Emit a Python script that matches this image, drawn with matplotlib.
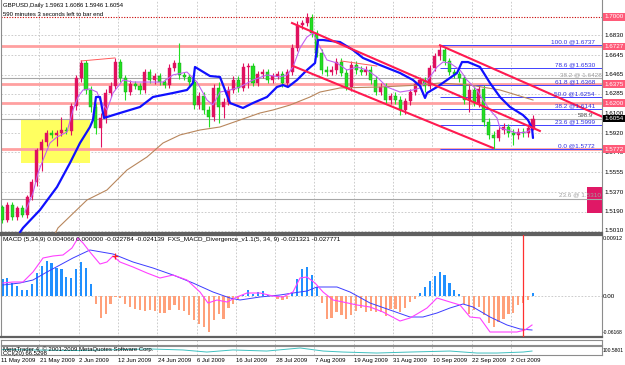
import numpy as np
import pandas as pd
import matplotlib
matplotlib.use("Agg")
import matplotlib.pyplot as plt
import matplotlib.transforms as mtrans
from matplotlib.patches import Rectangle

plt.rcParams['font.family'] = ['Liberation Sans', 'DejaVu Sans']

#------ DONNEES -------------------------------------#
symbol = "GBPUSD,Daily"
first_date = "2009-05-11"
open0 = 1.5233
closes = [1.5112, 1.5252, 1.5140, 1.5224, 1.5158, 1.5326, 1.5465, 1.5763, 1.5837, 1.5921,
          1.5903, 1.5921, 1.5949, 1.5940, 1.6172, 1.6433, 1.6572, 1.6321, 1.6163, 1.5968,
          1.6061, 1.6293, 1.6358, 1.6581, 1.6433, 1.6302, 1.6377, 1.6358, 1.6321, 1.6488,
          1.6414, 1.6451, 1.6395, 1.6367, 1.6526, 1.6572, 1.6461, 1.6442, 1.6395, 1.6182,
          1.6265, 1.6135, 1.6070, 1.6340, 1.6163, 1.6209, 1.6321, 1.6414, 1.6340, 1.6535,
          1.6544, 1.6386, 1.6470, 1.6488, 1.6414, 1.6451, 1.6470, 1.6386, 1.6488, 1.6712,
          1.6926, 1.6944, 1.6991, 1.6851, 1.6665, 1.6507, 1.6488, 1.6507, 1.6581, 1.6479,
          1.6349, 1.6553, 1.6507, 1.6488, 1.6507, 1.6414, 1.6302, 1.6349, 1.6228, 1.6265,
          1.6228, 1.6135, 1.6219, 1.6302, 1.6377, 1.6414, 1.6358, 1.6526, 1.6637, 1.6693,
          1.6591, 1.6488, 1.6470, 1.6433, 1.6228, 1.6321, 1.6200, 1.6331, 1.6023, 1.5903,
          1.5875, 1.5949, 1.5977, 1.5921, 1.5903, 1.5930, 1.5921, 1.5963, 1.6054]
# meches haute / basse en pips
wick_hi = [20, 25, 30, 20, 25, 20, 25, 20, 30, 30, 30, 25, 120, 30, 30, 30, 30, 30, 40, 40,
           50, 40, 40, 40, 30, 30, 40, 30, 30, 30, 30, 30, 30, 30, 40, 30, 190, 30, 30, 40,
           40, 40, 40, 40, 60, 40, 40, 40, 40, 40, 30, 30, 30, 30, 30, 30, 30, 30, 30, 40,
           40, 30, 45, 35, 30, 40, 40, 40, 40, 40, 40, 40, 40, 40, 40, 40, 40, 40, 40, 30,
           40, 40, 30, 30, 30, 30, 30, 30, 30, 44, 30, 30, 30, 30, 30, 60, 40, 40, 40, 40,
           40, 40, 40, 30, 40, 40, 40, 40, 32]
wick_lo = [30, 20, 25, 25, 20, 30, 30, 40, 200, 40, 30, 100, 30, 30, 40, 40, 40, 40, 50, 60,
           180, 50, 40, 30, 40, 75, 30, 30, 40, 30, 30, 40, 30, 30, 30, 30, 40, 30, 40, 40,
           40, 40, 95, 40, 150, 100, 30, 30, 40, 30, 200, 30, 30, 40, 30, 30, 30, 40, 30, 30,
           30, 40, 30, 40, 40, 40, 40, 30, 40, 30, 30, 40, 40, 30, 30, 40, 30, 30, 40, 40,
           40, 50, 40, 40, 30, 30, 60, 30, 30, 40, 40, 30, 40, 40, 40, 110, 30, 40, 40, 40,
           103, 30, 40, 40, 95, 40, 40, 40, 17]

# moyennes mobiles (noeuds : barre, prix)
ma_blue_bar = [3.56, 4.17, 7.63, 11.1, 13.74, 15.78, 17.81, 18.42, 19.03, 19.85, 20.66, 23.92,
               27.99, 30.64, 34.71, 37.56, 38.78, 39.19, 40.21, 42.24, 44.28, 46.32, 48.96,
               51.0, 53.85, 55.88, 57.11, 58.13, 59.96, 62.0, 63.63, 64.24, 65.26, 68.71,
               71.36, 73.39, 76.85, 80.93, 83.57, 85.0, 86.02, 86.43, 88.46, 90.5, 92.53,
               93.55, 94.77, 97.21, 99.25, 101.28, 103.32, 105.96, 106.98, 107.8, 108.0]
ma_blue_val = [1.4998, 1.5038, 1.5205, 1.5419, 1.5642, 1.5828, 1.5977, 1.6042, 1.6256, 1.6256,
               1.6061, 1.6107, 1.6163, 1.6256, 1.6293, 1.6321, 1.6386, 1.6535, 1.6507, 1.6451,
               1.6442, 1.6200, 1.6154, 1.6200, 1.6256, 1.6349, 1.6367, 1.6349, 1.6414, 1.6507,
               1.6572, 1.6786, 1.6786, 1.6767, 1.6693, 1.6619, 1.6553, 1.6479, 1.6414, 1.6358,
               1.6247, 1.6293, 1.6349, 1.6414, 1.6479, 1.6581, 1.6581, 1.6535, 1.6386, 1.6256,
               1.6163, 1.6088, 1.6042, 1.5968, 1.5875]
ma_fast_bar = [4.58, 5.19, 6.21, 7.23, 8.25, 9.67, 11.1, 13.13, 14.35, 15.37, 16.39, 17.81,
               19.24, 19.85, 21.27, 22.5, 24.53, 26.57, 29.42, 32.68, 34.71, 37.56, 39.6,
               41.63, 42.85, 44.28, 46.32, 48.35, 51.0, 53.85, 56.49, 57.92, 59.14, 60.57,
               61.99, 63.21, 64.64, 66.06, 68.1, 70.13, 72.17, 74.21, 76.24, 78.28, 80.93,
               83.57, 85.0, 87.03, 88.46, 89.68, 91.1, 93.14, 94.56, 96.6, 97.82, 99.25,
               100.67, 101.28, 102.71, 104.74, 106.78, 108.0]
ma_fast_val = [1.5186, 1.5252, 1.5363, 1.5549, 1.5670, 1.5828, 1.5884, 1.5930, 1.6135, 1.6256,
               1.6321, 1.6331, 1.6302, 1.6228, 1.6135, 1.6293, 1.6414, 1.6395, 1.6395, 1.6395,
               1.6461, 1.6488, 1.6395, 1.6228, 1.6182, 1.6302, 1.6321, 1.6349, 1.6414, 1.6461,
               1.6442, 1.6461, 1.6535, 1.6712, 1.6814, 1.6851, 1.6721, 1.6600, 1.6572, 1.6507,
               1.6535, 1.6507, 1.6442, 1.6349, 1.6302, 1.6321, 1.6340, 1.6442, 1.6535, 1.6581,
               1.6572, 1.6507, 1.6414, 1.6321, 1.6228, 1.6135, 1.6061, 1.5968, 1.5949, 1.5921,
               1.5930, 1.5968]
ma_slow_bar = [10.69, 11.3, 17.2, 21.27, 25.35, 29.42, 32.68, 36.14, 40.21, 44.28, 48.35,
               52.42, 55.07, 58.53, 62.61, 64.64, 68.71, 76.85, 85.0, 89.07, 95.17, 101.28, 108.0]
ma_slow_val = [1.4982, 1.5038, 1.5298, 1.5391, 1.5577, 1.5698, 1.5828, 1.5903, 1.5949, 1.5977,
               1.6042, 1.6107, 1.6135, 1.6181, 1.6256, 1.6302, 1.6340, 1.6349, 1.6367, 1.6386,
               1.6367, 1.6321, 1.6228]

# objets traces
levels_red = [1.6727, 1.6375, 1.6200, 1.5772]
level_top = 1.7000
levels_gray = [1.6428, 1.5310]
gray_names = ["38.2", "23.6"]
fib_levels = [1.6737, 1.6530, 1.6368, 1.6254, 1.6141, 1.5999, 1.5772]
fib_names = ["100.0", "78.6", "61.8", "50.0", "38.2", "23.6", "0.0"]
fib_start = 89
channels = [((58.94, 1.6944), (109.4, 1.5940)),
            ((59.14, 1.6544), (99.86, 1.5782)),
            ((89.07, 1.6737), (125.7, 1.6000))]
thin_lines = [((16.0, 1.6591), (22.9, 1.6619)), ((68.9, 1.6591), (76.2, 1.6544))]
zone_yellow = (3.8, 17.8, 1.5642, 1.6042)
zone_pink = (119.0, 122.2, 1.5177, 1.5419)
bid = 1.6054
price_ticks = [1.6830, 1.6645, 1.6465, 1.6285, 1.6100, 1.5920, 1.5740, 1.5555, 1.5370, 1.5190, 1.5010]

# MACD (unites du panneau)
macd_hist = [17, 18, 13, 10, 6, 6, 12, 23, 30, 35, 33, 28, 27, 19, 18, 27, 34, 28, 12,
             -8, -22, -18, -8, -1, -2, -8, -11, -13, -14, -15, -14, -15, -17, -17, -14, -9,
             -14, -15, -19, -24, -28, -31, -36, -24, -18, -23, -12, -8, -3,
             1, 6, 2, 4, 5, 1, 0, -3, -4, -3, 4, 17, 27, 29, 21, 9,
             -7, -23, -22, -16, -19, -23, -19, -15, -12, -16, -15, -16, -16, -20, -13, -13,
             -16, -12, -6, -3, 3, 9, 15, 20, 24, 21, 13, 6, 2,
             -8, -18, -14, -11, -19, -27, -31, -26, -23, -18, -17, -9, -7, -4, 3]
macd_main_bar = [0.1, 2.14, 4.17, 6.21, 8.25, 10.28, 12.32, 14.15, 15.37, 16.39, 17.81, 19.85,
                 21.27, 22.5, 23.92, 26.57, 29.42, 32.07, 34.71, 37.56, 40.21, 41.84, 43.67,
                 45.7, 47.74, 49.78, 52.42, 55.07, 57.11, 59.14, 60.57, 61.99, 63.63, 65.26,
                 67.29, 69.32, 72.17, 74.82, 77.46, 80.93, 82.96, 84.39, 86.43, 88.46, 91.1,
                 93.14, 95.17, 97.21, 99.25, 100.67, 104.74, 106.37, 107.8]
macd_main_val = [13, 14, 14, 24, 38, 40, 41, 48, 58, 53, 44, 32, 34, 40, 34, 29, 23, 18, 21, 16,
                 4, -7, -4, -6, -1, 3, 3, 0, -1, 4, 18, 19, 13, 4, -4, -6, -9, -11, -16, -25,
                 -22, -18, -12, -2, -6, -9, -21, -22, -36, -36, -36, -34, -29]
macd_sig_bar = [0.1, 3.56, 6.21, 9.06, 11.71, 14.35, 17.81, 22.5, 26.57, 30.64, 34.71, 38.78,
                42.85, 46.32, 48.35, 52.42, 56.49, 59.14, 61.99, 64.03, 68.1, 70.75, 74.82,
                78.89, 82.96, 85.6, 88.46, 91.1, 93.75, 95.79, 99.25, 102.71, 105.36, 107.8]
macd_sig_val = [11, 13, 16, 24, 31, 38, 46, 42, 34, 28, 21, 13, 4, -2, -4, -1, 1, 3, 5, 9, 9, 4,
                -7, -14, -21, -21, -17, -12, -8, -11, -21, -29, -33, -34]
macd_cross = (23, 40)
vline_bar = 106
macd_labels = [(58, "0.00912", 4.0), (0, "0.00", 4.5), (-37, "-0.06168", 3.6)]

# petit oscillateur du bas
osc_bar = [0, 15, 30.0, 36.7, 41.6, 46.9, 53.8, 60.6, 65.3, 69.3, 76.2, 83.0, 91.1, 96.6, 100.7, 106.0, 107.8]
osc_val = [60, 50, 67, 56, 33, 56, 44, 78, 44, 33, 22, 33, 44, 22, 22, 33, 44]
#----------------------------------------------------#

W, H = 625, 365
fig = plt.figure(figsize=(W / 100, H / 100), dpi=100)
fig.patch.set_facecolor("white")

def panel(x0, y0, x1, y1):
    return fig.add_axes([x0 / W, 1 - y1 / H, (x1 - x0) / W, (y1 - y0) / H])

ax = panel(1, 0, 602, 233)
axm = panel(1, 235, 602, 337)
axt = panel(1, 340, 602, 345)
axo = panel(1, 346, 602, 355)

n = len(closes)
xb = np.arange(n)
c = np.array(closes)
o = np.r_[open0, c[:-1]]
hi = np.maximum(o, c) + np.array(wick_hi) * 1e-4
lo = np.minimum(o, c) - np.array(wick_lo) * 1e-4
dates = pd.bdate_range(first_date, periods=n)
tick_bars = np.arange(0, n, 8)
tick_labels = ["%d %s" % (d.day, d.strftime("%b %Y")) for d in dates[tick_bars]]

xlim = (-0.3, 122.05)
grid_kw = dict(color="#c4c4c4", lw=0.6, ls=(0, (2, 2)), zorder=0)
for a in (ax, axm, axt, axo):
    a.set_xlim(*xlim)
    a.set_xticks([])
    a.set_yticks([])
    for t in tick_bars:
        a.axvline(t - 0.5, **grid_kw)
    for s in ("left", "right", "top", "bottom"):
        a.spines[s].set_color("#8c8c8c")
        a.spines[s].set_linewidth(0.8)
ax.spines["top"].set_visible(False)
ax.spines["bottom"].set_color("#606060"); ax.spines["bottom"].set_linewidth(1.6)
axm.spines["top"].set_color("#606060"); axm.spines["top"].set_linewidth(1.6)
axm.spines["bottom"].set_color("#606060"); axm.spines["bottom"].set_linewidth(1.6)

# ---- graphique principal ----
ax.set_ylim(1.4991, 1.7158)
for p in price_ticks:
    ax.axhline(p, **grid_kw)

y0z, y1z = zone_yellow[2], zone_yellow[3]
ax.add_patch(Rectangle((zone_yellow[0], y0z), zone_yellow[1] - zone_yellow[0], y1z - y0z,
                       fc="#ffff60", ec="none", zorder=1))
ax.add_patch(Rectangle((zone_pink[0], zone_pink[2]), zone_pink[1] - zone_pink[0],
                       zone_pink[3] - zone_pink[2], fc="#e01866", ec="none", zorder=1,
                       clip_on=False))

for lv in levels_red:
    ax.axhline(lv, color="#ffa0a0", lw=2.0, zorder=2)
ax.axhline(level_top, color="#c80000", lw=0.8, ls=(0, (1, 1.4)), zorder=2)
for lv in levels_gray:
    ax.axhline(lv, color="#a8a8a8", lw=0.8, zorder=2)
ax.axhline(bid, color="#a8a8a8", lw=0.8, zorder=2)
for lv in fib_levels:
    ax.hlines(lv, fib_start, xlim[1], color="#4040ff", lw=0.7, zorder=2)

up = c <= o
col_up, col_dn = "#22e022", "#e0115f"
ax.vlines(xb[up], lo[up], hi[up], color=col_up, lw=0.8, zorder=3)
ax.vlines(xb[~up], lo[~up], hi[~up], color=col_dn, lw=0.8, zorder=3)
body = np.maximum(np.abs(c - o), 0.0009)
ax.bar(xb[up], body[up], bottom=np.minimum(o, c)[up], width=0.62, color=col_up,
       edgecolor="#159a15", lw=0.3, zorder=4)
ax.bar(xb[~up], body[~up], bottom=np.minimum(o, c)[~up], width=0.62, color=col_dn,
       edgecolor=col_dn, lw=0.3, zorder=4)

ax.plot(ma_slow_bar, ma_slow_val, color="#b8865c", lw=0.8, zorder=5)
ax.plot(ma_fast_bar, ma_fast_val, color="#c060f0", lw=0.8, zorder=5)
ax.plot(ma_blue_bar, ma_blue_val, color="#1010ff", lw=1.6, zorder=6,
        solid_joinstyle="round", solid_capstyle="round")
for (b0, p0), (b1, p1) in channels:
    ax.plot([b0, b1], [p0, p1], color="#ff1a50", lw=1.5, zorder=6)
for (b0, p0), (b1, p1) in thin_lines:
    ax.plot([b0, b1], [p0, p1], color="#ff5a5a", lw=0.7, zorder=6)

# libelles fibo
tx = mtrans.blended_transform_factory(ax.transAxes, ax.transData)
for name, lv in zip(fib_names, fib_levels):
    ax.text(0.988, lv + 0.0006, "%s @%.4f" % (name, lv), transform=tx, ha="right",
            va="bottom", fontsize=4.6, color="#3030e0", zorder=7)
for name, lv in zip(gray_names, levels_gray):
    ax.text(0.999, lv + 0.0012, "%s @ %.4f" % (name, lv), transform=tx, ha="right",
            va="bottom", fontsize=4.6, color="#a0a0a0", zorder=7)
ax.text(0.985, bid + 0.0005, "598.9", transform=tx, ha="right", va="bottom",
        fontsize=4.4, color="#505050", zorder=7)

# echelle des prix
for p in price_ticks:
    ax.text(1.004, p, "%.4f" % p, transform=tx, ha="left", va="center", fontsize=4.5,
            color="black", clip_on=False)
for lv in [level_top] + levels_red:
    ax.text(1.004, lv, "%.4f" % lv, transform=tx, ha="left", va="center", fontsize=4.5,
            color="white", clip_on=False,
            bbox=dict(boxstyle="square,pad=0.2", fc="#ff5a78", ec="none"))
ax.text(1.004, bid, "%.4f" % bid, transform=tx, ha="left", va="center", fontsize=4.5,
        color="white", clip_on=False, bbox=dict(boxstyle="square,pad=0.2", fc="black", ec="none"))

fig.text(3 / W, 1 - 6 / H, "%s %.4f %.4f %.4f %.4f" % (symbol, o[-1], hi[-1], lo[-1], c[-1]),
         fontsize=4.3, va="center", ha="left")
fig.text(3 / W, 1 - 14 / H, "590 minutes 3 seconds left to bar end", fontsize=4.3,
         va="center", ha="left")

# ---- MACD ----
axm.set_ylim(-41, 61)
axm.axhline(0, color="#c4c4c4", lw=0.6, ls=(0, (2, 2)), zorder=0)
hist = np.array(macd_hist)
pos = hist > 0
axm.bar(xb[pos], hist[pos], width=0.45, color="#2090ff", zorder=2)
axm.bar(xb[~pos], hist[~pos], width=0.45, color="#ffa07a", zorder=2)
axm.plot(macd_sig_bar, macd_sig_val, color="#3c3cff", lw=0.7, zorder=3)
axm.plot(macd_main_bar, macd_main_val, color="#ff40ff", lw=0.8, zorder=3)
axm.plot(*macd_cross, marker="+", color="#ff2020", ms=4, mew=0.9, zorder=4)
axm.axvline(vline_bar, color="#ff3030", lw=0.9, zorder=4)
txm = mtrans.blended_transform_factory(axm.transAxes, axm.transData)
for v, lab, fs in macd_labels:
    axm.text(1.001, v, lab, transform=txm, ha="left", va="center", fontsize=fs, clip_on=False)
fig.text(3 / W, 1 - 240 / H,
         "MACD (5,34,9) 0.004066 0.000000 -0.022784 -0.024139  "
         "FXS_MACD_Divergence_v1.1(5, 34, 9) -0.021321 -0.027771",
         fontsize=4.6, va="center", ha="left")

# ---- oscillateur ----
axo.set_ylim(0, 100)
axo.plot(osc_bar, osc_val, color="#40c0c0", lw=0.7)
fig.text(3 / W, 1 - 349 / H, "MetaTrader 4, \u00a9 2001-2009 MetaQuotes Software Corp.",
         fontsize=4.3, va="center", ha="left")
fig.text(3 / W, 1 - 353.5 / H, "CCI(20) 66.5298", fontsize=4.3, va="center", ha="left")
fig.text(603 / W, 1 - 350 / H, "100.5801", fontsize=3.6, va="center", ha="left")

# axe des dates
tdate = mtrans.blended_transform_factory(axo.transData, axo.transAxes)
for t, lab in zip(tick_bars, tick_labels):
    axo.text(t - 0.4, -0.6, lab, transform=tdate, ha="left", va="center", fontsize=4.3,
             clip_on=False)

fig.savefig("out.png", dpi=100)
